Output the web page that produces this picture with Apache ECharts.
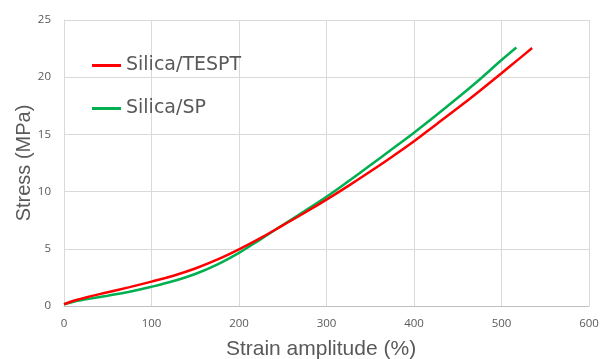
<!DOCTYPE html>
<html>
<head>
<meta charset="utf-8">
<script src="https://cdn.jsdelivr.net/npm/echarts@6/dist/echarts.min.js"></script>
<style>
  html, body { margin: 0; padding: 0; background: #fff; }
  #main { width: 601px; height: 359px; }
</style>
</head>
<body>
<div id="main"></div>
<script>
// strain (%) and stress (MPa)
var strainTespt = [0, 14, 25, 50, 75, 100, 125, 150, 175, 200, 225, 250, 275, 300, 325, 350, 375, 400, 425, 450, 475, 500, 520, 535];
var stressTespt = [0.15, 0.52, 0.75, 1.2, 1.65, 2.13, 2.65, 3.28, 4.05, 4.95, 5.95, 7.05, 8.15, 9.3, 10.5, 11.75, 13.05, 14.4, 15.85, 17.3, 18.8, 20.35, 21.6, 22.55];

var strainSp = [0, 14, 25, 50, 75, 100, 125, 150, 175, 200, 225, 250, 275, 300, 325, 350, 375, 400, 425, 450, 475, 500, 517];
var stressSp = [0.15, 0.44, 0.58, 0.9, 1.25, 1.68, 2.18, 2.8, 3.62, 4.65, 5.85, 7.08, 8.3, 9.55, 10.9, 12.3, 13.72, 15.15, 16.65, 18.2, 19.8, 21.5, 22.6];

var seriesNames = ['Silica/TESPT', 'Silica/SP'];

function pairs(xs, ys) {
    var out = [];
    for (var i = 0; i < xs.length; i++) out.push([xs[i], ys[i]]);
    return out;
}

var myChart = echarts.init(document.getElementById('main'));
myChart.setOption({
    animation: false,
    grid: {left: 64, right: 12, top: 20, bottom: 53, outerBoundsMode: 'none', containLabel: false},
    legend: {
        orient: 'vertical',
        left: 87,
        top: 51,
        itemGap: 24,
        icon: 'rect',
        itemWidth: 29,
        itemHeight: 3,
        textStyle: {fontFamily: 'DejaVu Sans', fontSize: 19, color: '#595959'},
        data: seriesNames
    },
    xAxis: {
        type: 'value',
        min: 0, max: 600, interval: 100,
        name: 'Strain amplitude (%)',
        nameLocation: 'middle',
        nameGap: 33,
        nameMoveOverlap: false,
        nameTextStyle: {fontFamily: 'Liberation Sans', fontSize: 21, color: '#595959', padding: [0, 11, 0, 0]},
        axisLine: {lineStyle: {color: '#bfbfbf', width: 1}},
        axisTick: {show: false},
        axisLabel: {fontFamily: 'Open Sans', fontSize: 11.5, color: '#595959', margin: 12},
        splitLine: {lineStyle: {color: '#d9d9d9', width: 1}}
    },
    yAxis: {
        type: 'value',
        min: 0, max: 25, interval: 5,
        name: 'Stress (MPa)',
        nameLocation: 'middle',
        nameGap: 30,
        nameMoveOverlap: false,
        nameTextStyle: {fontFamily: 'Liberation Sans', fontSize: 20, color: '#595959'},
        axisLine: {show: true, lineStyle: {color: '#d9d9d9'}},
        axisTick: {show: false},
        axisLabel: {fontFamily: 'Open Sans', fontSize: 11.5, color: '#595959', margin: 13},
        splitLine: {lineStyle: {color: '#d9d9d9', width: 1}}
    },
    series: [{
        name: seriesNames[0],
        type: 'line',
        smooth: 0.4,
        showSymbol: false,
        z: 3,
        itemStyle: {color: '#ff0000'},
        lineStyle: {color: '#ff0000', width: 2.5},
        data: pairs(strainTespt, stressTespt)
    }, {
        name: seriesNames[1],
        type: 'line',
        smooth: 0.4,
        showSymbol: false,
        z: 2,
        itemStyle: {color: '#00b050'},
        lineStyle: {color: '#00b050', width: 2.5},
        data: pairs(strainSp, stressSp)
    }]
});
</script>
</body>
</html>
